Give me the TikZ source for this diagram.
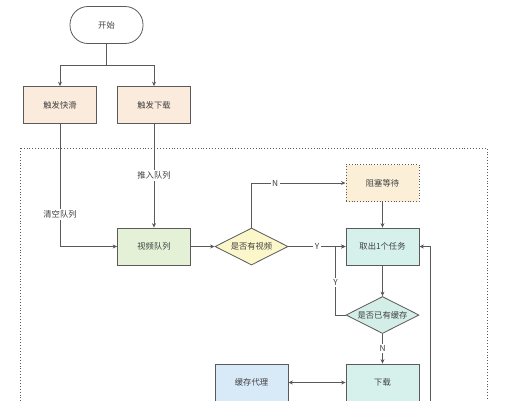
\documentclass[tikz,border=0pt]{standalone}
\usepackage{fontspec}
\newfontfamily\cjk{Noto Sans CJK SC}
\usetikzlibrary{shapes.geometric}
\usetikzlibrary{arrows.meta}

\definecolor{linegray}{HTML}{5A5A5A}
\definecolor{peach}{HTML}{FBEBDD}
\definecolor{leaf}{HTML}{E4F1D6}
\definecolor{straw}{HTML}{FCF7CB}
\definecolor{wheat}{HTML}{FBEFD7}
\definecolor{mint}{HTML}{D6F1EC}
\definecolor{teal}{HTML}{D3EEE6}
\definecolor{sky}{HTML}{D8E9F8}

\tikzset{
  every node/.style={font=\cjk\fontsize{8.3}{10}\selectfont, text=black!75},
  box/.style={draw=linegray, line width=0.8pt, minimum width=73pt, minimum height=37pt, inner sep=0pt},
  term/.style={box, fill=white, rounded corners=18pt},
  cond/.style={draw=linegray, line width=0.8pt, diamond, inner sep=0pt, minimum width=73pt, minimum height=37pt},
  flow/.style={draw=linegray, line width=0.8pt, -{Stealth[length=4.5pt,width=4pt]}},
  tag/.style={fill=white, inner sep=1.5pt},
}

\begin{document}
\begin{tikzpicture}[x=1pt,y=-1pt]
                \useasboundingbox (0,0) rectangle (526,400);
                \clip (0,0) rectangle (526,400);

                % frame
                \draw[linegray, dotted, line width=0.9pt] (20,148) rectangle (487,430);

                \node[term] (start) at (106.5,25) {开始};
                \node[box, fill=peach] (slide) at (60,105) {触发快滑};
                \node[box, fill=peach] (fetch) at (154,105) {触发下载};
                \node[box, fill=leaf] (queue) at (154,246.5) {视频队列};
                \node[cond, fill=straw, label=center:是否有视频] (hasvid) at (251.5,246.5) {};
                \node[box, fill=wheat, draw=linegray, dotted, line width=1pt] (block) at (382.5,183) {阻塞等待};
                \node[box, fill=mint] (take) at (382.5,246.5) {取出1个任务};
                \node[cond, fill=teal, label=center:是否已有缓存] (cached) at (382.5,315) {};
                \node[box, fill=mint] (down) at (382.5,382.5) {下载};
                \node[box, fill=sky] (proxy) at (251.5,382.5) {缓存代理};
                \coordinate (split) at (106.5,65);
                \coordinate (back) at (430,430);

                \draw[flow] (start) -- (split) -| (slide);
                \draw[flow] (split) -| (fetch);
                \draw[flow] (fetch) -- node[tag, pos=0.5] {推入队列} (queue);
                \draw[flow] (slide) |- node[tag, pos=0.37] {清空队列} (queue);
                \draw[flow] (queue) -- (hasvid);
                \draw[flow] (hasvid.north) |- node[tag, pos=0.625] {N} (block);
                \draw[flow] (hasvid) -- node[tag] {Y} (take);
                \draw[flow] (block) -- (take);
                \draw[flow] (take) -- (cached);
                \draw[flow] (cached.west) -- ++(-10,0) |- node[tag, pos=0.24] {Y} (take.west);
                \draw[flow] (cached) -- node[tag] {N} (down);
                \draw[flow, {Stealth[length=4.5pt,width=4pt]}-{Stealth[length=4.5pt,width=4pt]}] (proxy) -- (down);
                \draw[flow] (back) |- (take.east);
            \end{tikzpicture}
\end{document}
